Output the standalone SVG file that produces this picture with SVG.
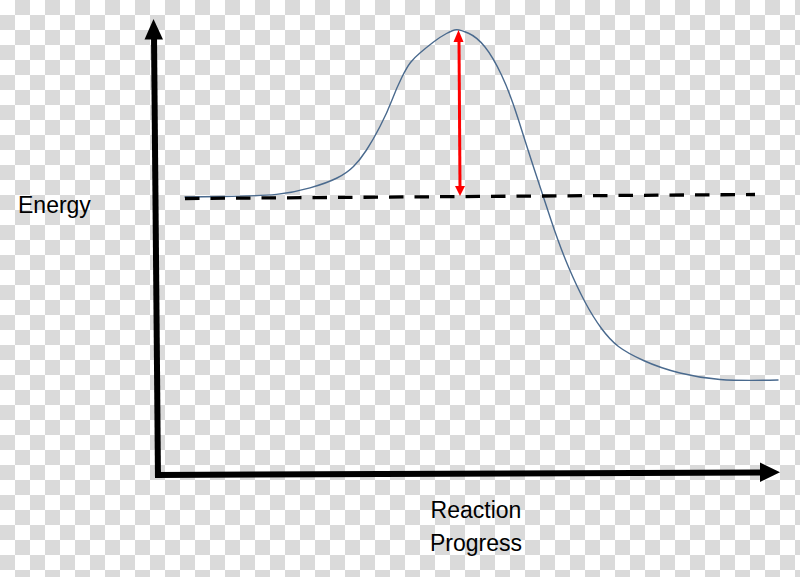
<svg xmlns="http://www.w3.org/2000/svg" width="800" height="577" viewBox="0 0 800 577">
  <defs>
    <pattern id="checker" x="0" y="0" width="30" height="30" patternUnits="userSpaceOnUse">
      <rect x="0" y="0" width="30" height="30" fill="#ffffff"/>
      <rect x="15" y="0" width="15" height="15" fill="#dadada"/>
      <rect x="0" y="15" width="15" height="15" fill="#dadada"/>
    </pattern>
  </defs>
  <style>
    .axis { stroke: #000000; stroke-width: 6; fill: none; }
    .head { fill: #000000; }
    .curve { stroke: #4a6a8e; stroke-width: 1.4; fill: none; stroke-linejoin: round; stroke-linecap: round; }
    .dash { stroke: #000000; stroke-width: 3.3; stroke-dasharray: 14.5 11; fill: none; }
    .red { stroke: #ff0000; stroke-width: 3; fill: none; }
    .redhead { fill: #ff0000; }
    .label { font-family: "Liberation Sans", Arial, sans-serif; font-size: 23px; fill: #000000; }
  </style>
  <rect x="0" y="0" width="800" height="577" fill="url(#checker)"/>

  <g id="axes">
    <line class="axis" x1="158" y1="478" x2="154" y2="36"/>
    <polygon class="head" points="153.5,19 144.5,39.5 163,39.5"/>
    <line class="axis" x1="155" y1="475" x2="762" y2="472.5"/>
    <polygon class="head" points="780,472.3 760,462.5 760,482"/>
  </g>

  <g id="energy-curve">
    <path class="curve" d="M185,197 L222.5,196.5 Q260,196 276.5,194.35 Q293,192.7 310,187.85 Q327,183 337,178 Q347,173 353.5,166.5 Q360,160 366.5,150 Q373,140 380,126.5 Q387,113 392,100 Q397,87 402,77 Q407,67 410.5,62.5 Q414,58 420.5,52.5 Q427,47 433.5,42 Q440,37 446.5,33.5 Q453,30 456.5,29.75 Q460,29.5 468.5,33.25 Q477,37 485,47 Q493,57 501.5,75 Q510,93 518.5,120 Q527,147 534.5,170 Q542,193 551,220 Q560,247 568.5,267 Q577,287 585,302 Q593,317 601.5,328.5 Q610,340 618.5,346.5 Q627,353 643.5,360.5 Q660,368 680,373 Q700,378 720,379.5 Q740,381 778,380"/>
  </g>

  <g id="reactant-level">
    <line class="dash" x1="185" y1="198.5" x2="755" y2="194.5"/>
  </g>

  <g id="activation-energy">
    <line class="red" x1="459" y1="40" x2="460" y2="188"/>
    <polygon class="redhead" points="458.5,30 453.5,42 463.5,42"/>
    <polygon class="redhead" points="460,196 455,186 465,186"/>
  </g>

  <g id="labels">
    <text class="label" x="18" y="213">Energy</text>
    <text class="label" x="476" y="518" text-anchor="middle">Reaction</text>
    <text class="label" x="476" y="551" text-anchor="middle">Progress</text>
  </g>
</svg>
